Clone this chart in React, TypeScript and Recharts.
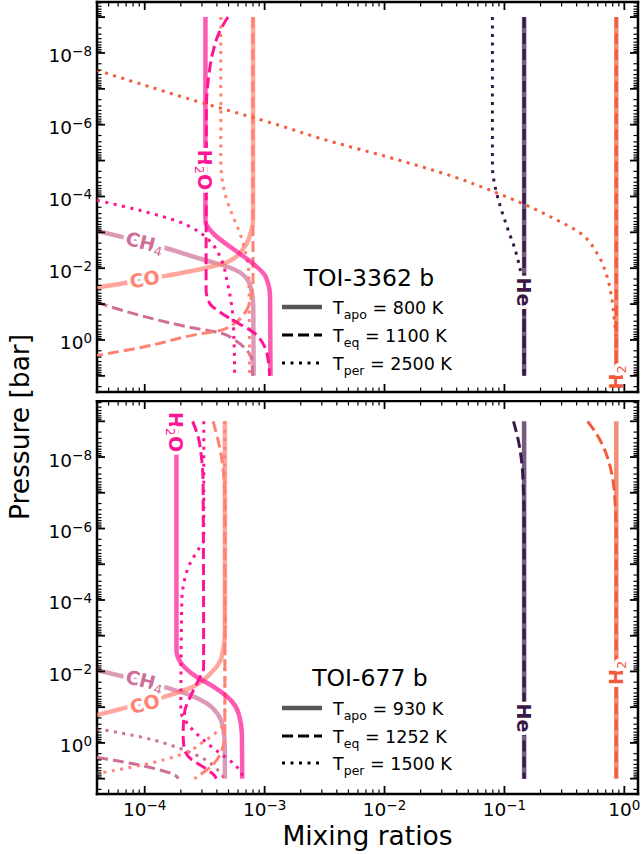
import React from 'react';
import { ScatterChart, Scatter, XAxis, YAxis } from 'recharts';

const FONT = '"DejaVu Sans", Verdana, sans-serif';

// axis limits
const xDomain: [number, number] = [4e-5, 1.3];
const yDomainA: [number, number] = [3.8e-10, 28.2];
const yDomainB: [number, number] = [2.7e-10, 26.9];

// labelled decades
const xLabelExps = [-4, -3, -2, -1, 0];
const yLabelExps = [-8, -6, -4, -2, 0];

// legend content
const tempKeys = ['apo', 'eq', 'per'];
const tempsA = [800, 1100, 2500];
const tempsB = [930, 1252, 1500];

type Profile = { x: number[]; p: number[] };

// ---- TOI-3362 b (top panel): mixing ratio x vs pressure p [bar]
const h2oApoA: Profile = { x: [3.21e-4, 3.21e-4, 3.72e-4, 5.62e-4, 8.26e-4, 1.02e-3, 1.11e-3, 1.12e-3], p: [1e-9, 5e-4, 1.07e-3, 3.1e-3, 8.1e-3, 1.72e-2, 6.2e-2, 10] };
const h2oEqA: Profile = { x: [4.94e-4, 4.16e-4, 3.69e-4, 3.41e-4, 3.27e-4, 3.25e-4, 3.48e-4, 4.37e-4, 6.03e-4, 8.26e-4, 1.0e-3, 1.08e-3, 1.1e-3], p: [1e-9, 2.8e-9, 1e-8, 4.7e-8, 3.2e-7, 4.1e-2, 9.5e-2, 0.18, 0.34, 0.65, 1.54, 4.4, 10] };
const h2oPerA: Profile = { x: [4e-5, 1e-4, 1.91e-4, 2.95e-4, 3.72e-4, 4.37e-4, 4.9e-4, 5.37e-4, 5.55e-4, 5.62e-4], p: [1.27e-4, 2.65e-4, 5.0e-4, 1.07e-3, 2.25e-3, 5.9e-3, 2.6e-2, 0.146, 1.0, 10] };
const coApoA: Profile = { x: [8e-4, 8e-4, 7.76e-4, 6.81e-4, 4.94e-4, 3.16e-4, 1.38e-4, 4e-5], p: [1e-9, 4.5e-4, 8.6e-4, 2.5e-3, 6.6e-3, 1e-2, 1.72e-2, 3.44e-2] };
const coEqA: Profile = { x: [8e-4, 8e-4, 7.76e-4, 7.08e-4, 5.62e-4, 4.37e-4, 2.61e-4, 1e-4, 4e-5], p: [1e-9, 2.6e-2, 6.2e-2, 0.146, 0.34, 0.53, 0.72, 1.54, 2.7] };
const coPerA: Profile = { x: [4.31e-4, 4.31e-4, 4.66e-4, 5.3e-4, 6.21e-4, 7.06e-4, 7.38e-4, 7.5e-4], p: [1e-9, 9.5e-6, 8.1e-5, 2.9e-4, 1.06e-3, 4.8e-3, 1.35e-2, 10] };
const ch4ApoA: Profile = { x: [4e-5, 1.51e-4, 3.16e-4, 4.9e-4, 6.38e-4, 7.64e-4, 8.04e-4, 8.1e-4], p: [9.1e-4, 2.78e-3, 5.9e-3, 9.1e-3, 1.38e-2, 3.27e-2, 0.118, 10] };
const ch4EqA: Profile = { x: [4e-5, 1e-4, 2.29e-4, 4.37e-4, 5.62e-4, 7.08e-4, 7.83e-4, 7.94e-4], p: [9e-2, 0.224, 0.43, 0.65, 1.0, 1.9, 3.6, 10] };
const heApoA: Profile = { x: [0.146, 0.146], p: [1e-9, 10] };
const heEqA: Profile = { x: [0.146, 0.146], p: [1e-9, 10] };
const hePerA: Profile = { x: [7.94e-2, 7.94e-2, 8.2e-2, 8.91e-2, 0.105, 0.123, 0.1355, 0.146, 0.146], p: [1e-9, 1.48e-5, 3.86e-5, 1.25e-4, 6.95e-4, 3.1e-3, 1.12e-2, 0.1, 10] };
const h2ApoA: Profile = { x: [0.857, 0.857], p: [1e-9, 10] };
const h2EqA: Profile = { x: [0.857, 0.857], p: [1e-9, 10] };
const h2PerA: Profile = { x: [4e-5, 2.16e-4, 1.43e-3, 2.89e-3, 1.04e-2, 3.76e-2, 8.38e-2, 0.144, 0.257, 0.43, 0.592, 0.718, 0.789, 0.824, 0.857, 0.857], p: [3.03e-8, 1.76e-7, 1.13e-6, 2.39e-6, 7.78e-6, 2.81e-5, 7.64e-5, 1.62e-4, 4.06e-4, 1.06e-3, 3.83e-3, 1.72e-2, 7.67e-2, 0.277, 1.0, 10] };

// ---- TOI-677 b (bottom panel)
const h2oApoB: Profile = { x: [1.84e-4, 1.84e-4, 2.04e-4, 2.63e-4, 3.85e-4, 5.3e-4, 6.1e-4, 6.46e-4, 6.5e-4], p: [1e-9, 2.6e-3, 6.2e-3, 1.33e-2, 2.83e-2, 6.7e-2, 0.158, 0.575, 10] };
const h2oEqB: Profile = { x: [2.51e-4, 2.79e-4, 2.97e-4, 3.07e-4, 3.1e-4, 2.79e-4, 2.38e-4, 2.16e-4, 2.09e-4, 2.13e-4, 2.45e-4, 3.17e-4, 3.85e-4, 3.95e-4], p: [1e-9, 2.7e-9, 9.8e-9, 5.5e-8, 7.8e-3, 1.84e-2, 5.4e-2, 0.128, 0.575, 1.37, 2.9, 5.0, 8.5, 10] };
const h2oPerB: Profile = { x: [3.11e-4, 3.11e-4, 2.88e-4, 2.38e-4, 2.09e-4, 2.04e-4, 2.0e-4, 2.3e-4, 3.16e-4, 4.37e-4, 5.62e-4, 6.46e-4, 6.6e-4], p: [1e-9, 2.1e-6, 3.3e-6, 9.7e-6, 4.4e-5, 1.04e-4, 0.128, 0.302, 0.889, 2.1, 4.0, 7.7, 10] };
const coApoB: Profile = { x: [4.66e-4, 4.66e-4, 4.37e-4, 3.6e-4, 2.45e-4, 1.38e-4, 4e-5], p: [1e-9, 9e-4, 4.07e-3, 1.07e-2, 2.83e-2, 5.4e-2, 0.167] };
const coEqB: Profile = { x: [3.72e-4, 4.37e-4, 4.57e-4, 4.66e-4, 4.66e-4, 4.37e-4, 3.72e-4, 2.79e-4, 2.6e-4], p: [1e-9, 1e-8, 3.6e-8, 2e-7, 0.575, 1.7, 4.0, 8.5, 10] };
const coPerB: Profile = { x: [4.66e-4, 4.66e-4, 4.37e-4, 4.07e-4, 3.16e-4, 2.02e-4, 1e-4, 4e-5], p: [1e-9, 0.3, 0.377, 0.467, 0.889, 2.1, 4.0, 7.2] };
const ch4ApoB: Profile = { x: [4e-5, 1.57e-4, 2.29e-4, 3.39e-4, 4.07e-4, 4.51e-4, 4.66e-4, 4.66e-4], p: [9.2e-3, 2.94e-2, 4.35e-2, 8.3e-2, 0.158, 0.377, 1.37, 10] };
const ch4EqB: Profile = { x: [4e-5, 1e-4, 1.84e-4, 1.9e-4], p: [2.54, 4.49, 8.57, 10] };
const ch4PerB: Profile = { x: [4e-5, 1e-4, 1.91e-4, 3.16e-4, 4.37e-4, 4.6e-4], p: [0.404, 0.72, 1.37, 2.9, 7.67, 10] };
const heApoB: Profile = { x: [0.146, 0.146], p: [1e-9, 10] };
const heEqB: Profile = { x: [0.119, 0.131, 0.14, 0.144, 0.146, 0.146], p: [1e-9, 3.6e-9, 1.64e-8, 9.2e-8, 5e-7, 10] };
const h2ApoB: Profile = { x: [0.857, 0.857], p: [1e-9, 10] };
const h2EqB: Profile = { x: [0.494, 0.592, 0.693, 0.789, 0.83, 0.845, 0.857, 0.857], p: [1e-9, 2.37e-9, 6.9e-9, 3.14e-8, 1.17e-7, 3.8e-7, 2e-6, 10] };

const C = {
  h2o: '#ff1493',
  co: '#ff8272',
  ch4: '#cf6f97',
  he: '#3b1748',
  h2: '#f25c3c',
};

type Kind = 'solid' | 'dashed' | 'dotted';
type Series = { d: Profile; c: string; k: Kind };

const seriesA: Series[] = [
  { d: ch4ApoA, c: C.ch4, k: 'solid' },
  { d: ch4EqA, c: C.ch4, k: 'dashed' },
  { d: coApoA, c: C.co, k: 'solid' },
  { d: coEqA, c: C.co, k: 'dashed' },
  { d: coPerA, c: C.co, k: 'dotted' },
  { d: h2oApoA, c: C.h2o, k: 'solid' },
  { d: h2oEqA, c: C.h2o, k: 'dashed' },
  { d: h2oPerA, c: C.h2o, k: 'dotted' },
  { d: heApoA, c: C.he, k: 'solid' },
  { d: heEqA, c: C.he, k: 'dashed' },
  { d: hePerA, c: C.he, k: 'dotted' },
  { d: h2ApoA, c: C.h2, k: 'solid' },
  { d: h2EqA, c: C.h2, k: 'dashed' },
  { d: h2PerA, c: C.h2, k: 'dotted' },
];

const seriesB: Series[] = [
  { d: ch4ApoB, c: C.ch4, k: 'solid' },
  { d: ch4EqB, c: C.ch4, k: 'dashed' },
  { d: ch4PerB, c: C.ch4, k: 'dotted' },
  { d: coApoB, c: C.co, k: 'solid' },
  { d: coEqB, c: C.co, k: 'dashed' },
  { d: coPerB, c: C.co, k: 'dotted' },
  { d: h2oApoB, c: C.h2o, k: 'solid' },
  { d: h2oEqB, c: C.h2o, k: 'dashed' },
  { d: h2oPerB, c: C.h2o, k: 'dotted' },
  { d: heApoB, c: C.he, k: 'solid' },
  { d: heEqB, c: C.he, k: 'dashed' },
  { d: h2ApoB, c: C.h2, k: 'solid' },
  { d: h2EqB, c: C.h2, k: 'dashed' },
];

type Label = { name: string; x: number; p: number; rot: number; c: string };

const labelsA: Label[] = [
  { name: 'H2O', x: 3.21e-4, p: 1.82e-5, rot: 90, c: C.h2o },
  { name: 'CH4', x: 1e-4, p: 1.9e-3, rot: 14, c: C.ch4 },
  { name: 'CO', x: 1e-4, p: 2e-2, rot: -10, c: C.co },
  { name: 'He', x: 0.146, p: 4.6e-2, rot: 90, c: C.he },
  { name: 'H2', x: 0.857, p: 11, rot: -90, c: C.h2 },
];

const labelsB: Label[] = [
  { name: 'H2O', x: 1.84e-4, p: 2e-9, rot: 90, c: C.h2o },
  { name: 'CH4', x: 1e-4, p: 1.8e-2, rot: 14, c: C.ch4 },
  { name: 'CO', x: 1e-4, p: 8e-2, rot: -15, c: C.co },
  { name: 'He', x: 0.146, p: 0.2, rot: 90, c: C.he },
  { name: 'H2', x: 0.857, p: 1.1e-2, rot: -90, c: C.h2 },
];

const labelParts: Record<string, [string, boolean][]> = {
  H2O: [['H', false], ['2', true], ['O', false]],
  CH4: [['CH', false], ['4', true]],
  CO: [['CO', false]],
  He: [['He', false]],
  H2: [['H', false], ['2', true]],
};

const pts = (s: Profile) => s.x.map((x, i) => ({ x, y: s.p[i] }));

const logTicks = (lo: number, hi: number) => {
  const out: number[] = [];
  for (let d = Math.floor(Math.log10(lo)); d <= Math.ceil(Math.log10(hi)); d++) {
    for (let k = 1; k < 10; k++) {
      const v = Number((k * Math.pow(10, d)).toPrecision(3));
      if (v >= lo && v <= hi) out.push(v);
    }
  }
  return out;
};

const decadeOf = (v: number) => {
  const e = Math.log10(v);
  const r = Math.round(e);
  return Math.abs(e - r) < 1e-6 ? r : null;
};

const supText = (e: number) => (e < 0 ? `\u2212${-e}` : `${e}`);

function lineStyle(k: Kind, color: string) {
  if (k === 'solid') return { stroke: color, strokeWidth: 4.5, strokeOpacity: 0.7 };
  if (k === 'dashed') return { stroke: color, strokeWidth: 3, strokeDasharray: '11 5' };
  return { stroke: color, strokeWidth: 3, strokeDasharray: '3 5.5' };
}

const noDot = () => <g />;

const tickText = { fontFamily: FONT, fontSize: 18.5, fill: '#000', stroke: 'none', fontWeight: 'normal' as const };

function XTick(props: any) {
  const { x, y, payload, side, showLabels } = props;
  const e = decadeOf(payload.value);
  const major = e !== null;
  const dir = side === 'bottom' ? -1 : 1;
  return (
    <g>
      <line x1={x} y1={y} x2={x} y2={y + dir * (major ? 8 : 4.5)} stroke="#000" strokeWidth={major ? 1.8 : 1.2} />
      {major && showLabels && xLabelExps.includes(e as number) && (
        <text x={x} y={y + 22} textAnchor="middle" {...tickText}>
          10
          <tspan dy={-6.5} fontSize={13.5}>{supText(e as number)}</tspan>
        </text>
      )}
    </g>
  );
}

function YTick(props: any) {
  const { x, y, payload, side } = props;
  const e = decadeOf(payload.value);
  const major = e !== null;
  const dir = side === 'left' ? 1 : -1;
  return (
    <g>
      <line x1={x} y1={y} x2={x + dir * (major ? 8 : 4.5)} y2={y} stroke="#000" strokeWidth={major ? 1.8 : 1.2} />
      {major && side === 'left' && yLabelExps.includes(e as number) && (
        <text x={x - 5} y={y + 9.5} textAnchor="end" {...tickText}>
          10
          <tspan dy={-6.5} fontSize={13.5}>{supText(e as number)}</tspan>
        </text>
      )}
    </g>
  );
}

function SpeciesLabel(props: any) {
  const { cx, cy, name, rot, color } = props;
  const parts = labelParts[name];
  let prevSub = false;
  return (
    <text
      x={cx}
      y={cy}
      transform={`rotate(${rot} ${cx} ${cy})`}
      textAnchor="middle"
      dominantBaseline="central"
      fontFamily={FONT}
      fontWeight="bold"
      fontSize={19}
      fill={color}
      stroke="#fff"
      strokeWidth={7}
      strokeLinejoin="round"
      style={{ paintOrder: 'stroke' }}
    >
      {parts.map(([t, sub], i) => {
        const dy = sub && !prevSub ? 5 : !sub && prevSub ? -5 : 0;
        prevSub = sub;
        return (
          <tspan key={i} dy={dy} fontSize={sub ? 13 : 19} fontWeight={sub ? 'normal' : 'bold'}>
            {t}
          </tspan>
        );
      })}
    </text>
  );
}

const axisLineStyle = { stroke: '#000', strokeWidth: 2.5, strokeLinecap: 'square' };

function Panel({ series, labels, yDomain, height, margin, showXLabels }: any) {
  const xTicks = logTicks(xDomain[0], xDomain[1]);
  const yTicks = logTicks(yDomain[0], yDomain[1]);
  const common = { tickSize: 0, tickMargin: 0, tickLine: false, interval: 0 as const, axisLine: axisLineStyle, allowDataOverflow: true };
  return (
    <ScatterChart width={642} height={height} margin={margin}>
      <XAxis type="number" dataKey="x" scale="log" domain={xDomain} ticks={xTicks} height={1} {...common} tick={<XTick side="bottom" showLabels={showXLabels} />} />
      <XAxis xAxisId="t" orientation="top" type="number" dataKey="x" scale="log" domain={xDomain} ticks={xTicks} height={1} {...common} tick={<XTick side="top" />} />
      <YAxis type="number" dataKey="y" scale="log" domain={yDomain} reversed ticks={yTicks} width={1} {...common} tick={<YTick side="left" />} />
      <YAxis yAxisId="r" orientation="right" type="number" dataKey="y" scale="log" domain={yDomain} reversed ticks={yTicks} width={1} {...common} tick={<YTick side="right" />} />
      {series.map((s: Series, i: number) => (
        <Scatter
          key={`s${i}`}
          data={pts(s.d)}
          line={lineStyle(s.k, s.c)}
          lineJointType="monotoneY"
          shape={noDot}
          isAnimationActive={false}
        />
      ))}
      {labels.map((l: Label, i: number) => (
        <Scatter
          key={`l${i}`}
          data={[{ x: l.x, y: l.p }]}
          shape={(p: any) => <SpeciesLabel cx={p.cx} cy={p.cy} name={l.name} rot={l.rot} color={l.c} />}
          isAnimationActive={false}
        />
      ))}
    </ScatterChart>
  );
}

function LegendBlock({ title, temps, cx, baseline, rows }: any) {
  const styles = [
    { stroke: '#555', strokeWidth: 4.5 },
    { stroke: '#000', strokeWidth: 3, strokeDasharray: '11 5' },
    { stroke: '#000', strokeWidth: 3, strokeDasharray: '3 5.5' },
  ];
  return (
    <g fontFamily={FONT} fill="#000">
      <text x={cx} y={baseline} textAnchor="middle" fontSize={23.5}>{title}</text>
      {tempKeys.map((k, i) => (
        <g key={k}>
          <line x1={282} x2={322} y1={rows[i]} y2={rows[i]} {...styles[i]} />
          <text x={333} y={rows[i] + 7} fontSize={17.5}>
            T<tspan dy={4.5} fontSize={12.5}>{k}</tspan>
            <tspan dy={-4.5}>{` = ${temps[i]} K`}</tspan>
          </text>
        </g>
      ))}
    </g>
  );
}

export default function App() {
  return (
    <div style={{ position: 'fixed', left: 0, top: 0, width: 642, height: 854, background: '#fff' }}>
      <div style={{ position: 'absolute', left: 0, top: 0 }}>
        <Panel series={seriesA} labels={labelsA} yDomain={yDomainA} height={400} margin={{ top: 1, right: 3, bottom: 7, left: 96 }} showXLabels={false} />
      </div>
      <div style={{ position: 'absolute', left: 0, top: 400 }}>
        <Panel series={seriesB} labels={labelsB} yDomain={yDomainB} height={454} margin={{ top: 0, right: 3, bottom: 59, left: 96 }} showXLabels />
      </div>
      <svg width={642} height={854} style={{ position: 'absolute', left: 0, top: 0, pointerEvents: 'none' }}>
        <LegendBlock title="TOI-3362 b" temps={tempsA} cx={369} baseline={286} rows={[307, 335, 363]} />
        <LegendBlock title="TOI-677 b" temps={tempsB} cx={370} baseline={686} rows={[708, 736, 763]} />
        <text x={28.5} y={427} transform="rotate(-90 28.5 427)" textAnchor="middle" fontFamily={FONT} fontSize={26.5}>
          Pressure [bar]
        </text>
        <text x={367.5} y={845} textAnchor="middle" fontFamily={FONT} fontSize={26.5}>
          Mixing ratios
        </text>
      </svg>
    </div>
  );
}
